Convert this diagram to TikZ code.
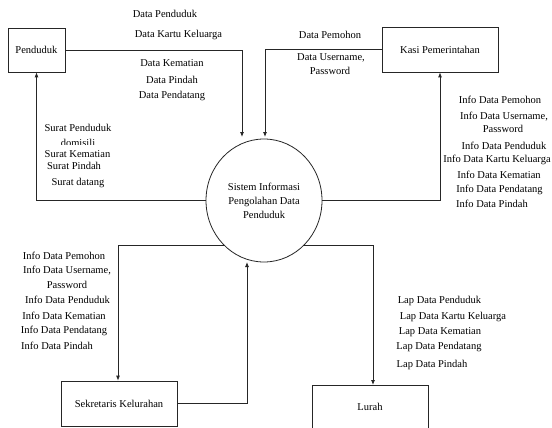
\documentclass[tikz,border=0pt]{standalone}
\usepackage{fontspec}
\setmainfont{Liberation Serif}
\usetikzlibrary{shapes.geometric,arrows.meta}
\begin{document}
\begin{tikzpicture}[x=1pt,y=-1pt,
  every node/.style={font=\fontsize{10.5}{14}\selectfont},
  box/.style={draw=black!85,line width=0.8pt,rectangle,inner sep=0pt},
  lbl/.style={inner sep=0pt,anchor=center},
  arr/.style={draw=black!85,line width=0.8pt,-{Latex[length=5pt,width=4pt]}},
  ln/.style={draw=black!85,line width=0.8pt}]
\useasboundingbox (0,0) rectangle (552,428);
\clip (0,0) rectangle (552,428);
\fill[white] (0,0) rectangle (552,428);
% nodes
\node[box,minimum width=57pt,minimum height=44pt] (pend) at (36.5,50) {Penduduk};
\node[box,minimum width=116pt,minimum height=45pt] (kasi) at (440,49.5) {Kasi Pemerintahan};
\node[box,minimum width=116pt,minimum height=45pt] (sek) at (119,403.5) {Sekretaris Kelurahan};
\node[box,minimum width=116pt,minimum height=90pt,anchor=north] (lurah) at (370,385) {};
\node[lbl] (lurahtxt) at (370,407) {Lurah};
\node[draw=black!85,line width=0.8pt,ellipse,minimum width=116pt,minimum height=123pt,inner sep=0pt,align=center] (sis) at (264,200.5) {Sistem Informasi\\Pengolahan Data\\Penduduk};
% connector ends
\coordinate (in1) at (242,137);
\coordinate (in2) at (265,137);
\coordinate (in3) at (247,262);
\coordinate (outl) at (224,245);
\coordinate (outr) at (304,245);
\coordinate (turnl) at (118,245);
\coordinate (turnr) at (373,245);
% connectors
\draw[arr] (pend.east) -| (in1);
\draw[arr] (kasi.west) -| (in2);
\draw[arr] (sis.west) -| (pend.south);
\draw[arr] (sis.east) -| (kasi.south);
\draw[arr] (outl) -- (turnl) -- (turnl |- sek.north);
\draw[arr] (sek.east) -| (in3);
\draw[arr] (outr) -- (turnr) -- (turnr |- lurah.north);
% labels top
\node[lbl] (t1) at (165,14) {Data Penduduk};
\node[lbl] (t2) at (178.5,35) {Data Kartu Keluarga};
\node[lbl] (t3) at (172,63) {Data Kematian};
\node[lbl] (t4) at (172,80) {Data Pindah};
\node[lbl] (t5) at (172,96) {Data Pendatang};
% left labels
\node[lbl] (s1) at (78,128) {Surat Penduduk};
\begin{scope}
\clip (30,130) rectangle (130,144.2);
\node[lbl] (s2) at (78,143.3) {domisili};
\end{scope}
\node[lbl] (s3) at (77.5,154) {Surat Kematian};
\node[lbl] (s4) at (74,166) {Surat Pindah};
\node[lbl] (s5) at (78,183) {Surat datang};
% kasi labels
\node[lbl] (k1) at (330,35) {Data Pemohon};
\node[lbl] (k2) at (331,58) {Data Username,};
\node[lbl] (k3) at (330,71) {Password};
\node[lbl] (r1) at (500,100) {Info Data Pemohon};
\node[lbl] (r2) at (504,117) {Info Data Username,};
\node[lbl] (r3) at (503,129) {Password};
\node[lbl] (r4) at (504,146) {Info Data Penduduk};
\node[lbl] (r5) at (497,160) {Info Data Kartu Keluarga};
\node[lbl] (r6) at (499,175) {Info Data Kematian};
\node[lbl] (r7) at (499.5,190) {Info Data Pendatang};
\node[lbl] (r8) at (492,204) {Info Data Pindah};
% sekretaris labels
\node[lbl] (e1) at (64,256) {Info Data Pemohon};
\node[lbl] (e2) at (67,271) {Info Data Username,};
\node[lbl] (e3) at (67,285) {Password};
\node[lbl] (e4) at (67.5,300) {Info Data Penduduk};
\node[lbl] (e5) at (64,316) {Info Data Kematian};
\node[lbl] (e6) at (64,331) {Info Data Pendatang};
\node[lbl] (e7) at (57,346) {Info Data Pindah};
% lurah labels
\node[lbl] (l1) at (439.5,301) {Lap Data Penduduk};
\node[lbl] (l2) at (453,317) {Lap Data Kartu Keluarga};
\node[lbl] (l3) at (440,332) {Lap Data Kematian};
\node[lbl] (l4) at (439,347) {Lap Data Pendatang};
\node[lbl] (l5) at (432,365) {Lap Data Pindah};
\end{tikzpicture}
\end{document}
